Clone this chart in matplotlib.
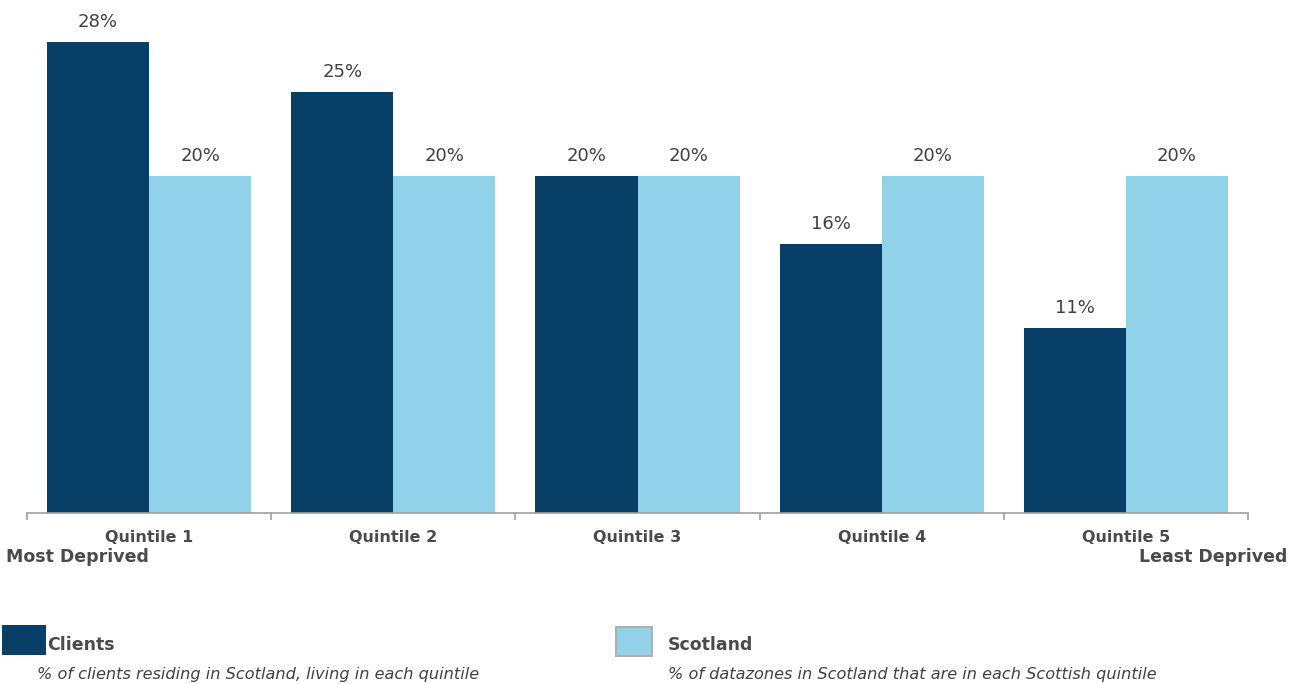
import matplotlib
matplotlib.use("Agg")
import matplotlib.pyplot as plt
from matplotlib.patches import Rectangle
import numpy as np

categories = ["Quintile 1", "Quintile 2", "Quintile 3", "Quintile 4", "Quintile 5"]
clients = [28, 25, 20, 16, 11]
scotland = [20, 20, 20, 20, 20]
series_names = ["Clients", "Scotland"]
series_desc = ["% of clients residing in Scotland, living in each quintile",
               "% of datazones in Scotland that are in each Scottish quintile"]

DARK = "#073F66"
LIGHT = "#92D2E8"
TXT = "#404040"
BTXT = "#4A4A4A"

W, H = 1298, 684
fig = plt.figure(figsize=(W / 100, H / 100), dpi=100)
plt.rcParams['font.family'] = ['DejaVu Sans']

ax = fig.add_axes([27 / W, 171 / H, (1248 - 27) / W, 505 / H])
x = np.arange(len(categories))
bw = 0.418
b1 = ax.bar(x - bw / 2, clients, bw, color=DARK)
b2 = ax.bar(x + bw / 2, scotland, bw, color=LIGHT)
for bars, vals in ((b1, clients), (b2, scotland)):
    for r, v in zip(bars, vals):
        ax.annotate(f"{v}%", (r.get_x() + r.get_width() / 2, r.get_height()),
                    xytext=(0, 8), textcoords="offset points",
                    ha="center", va="bottom", fontsize=13, color=TXT)

ax.set_xlim(-0.5, len(categories) - 0.5)
ax.set_ylim(0, 30)
for s in ("top", "right", "left"):
    ax.spines[s].set_visible(False)
ax.spines["bottom"].set_color("#A0A0A0")
ax.spines["bottom"].set_linewidth(1.2)
ax.set_yticks([])
ax.set_xticks(np.arange(-0.5, len(categories), 1.0))
ax.set_xticklabels([])
ax.tick_params(axis="x", length=5, color="#A0A0A0", width=1.2, direction="out")
ax.set_xticks(x, minor=True)
ax.set_xticklabels(categories, minor=True, fontsize=11.5, fontweight="bold", color=BTXT)
ax.tick_params(axis="x", which="minor", length=0, pad=12)

fig.text(6 / W, 1 - 557 / H, "Most Deprived", ha="left", va="center",
         fontsize=12.5, fontweight="bold", color=BTXT)
fig.text(1287 / W, 1 - 557 / H, "Least Deprived", ha="right", va="center",
         fontsize=12.5, fontweight="bold", color=BTXT)

# Legend
fig.patches.append(Rectangle((2 / W, 1 - 655 / H), 44 / W, 30 / H,
                             transform=fig.transFigure, facecolor=DARK, edgecolor="none"))
fig.patches.append(Rectangle((616 / W, 1 - 656 / H), 36 / W, 29 / H,
                             transform=fig.transFigure, facecolor=LIGHT,
                             edgecolor="#B0B0B0", linewidth=1.5))
fig.text(47 / W, 1 - 645 / H, series_names[0], ha="left", va="center",
         fontsize=12.5, fontweight="bold", color=BTXT)
fig.text(668 / W, 1 - 645 / H, series_names[1], ha="left", va="center",
         fontsize=12.5, fontweight="bold", color=BTXT)
fig.text(37 / W, 1 - 675 / H, series_desc[0], ha="left", va="center",
         fontsize=11.6, style="italic", color=TXT)
fig.text(668 / W, 1 - 675 / H, series_desc[1], ha="left", va="center",
         fontsize=11.6, style="italic", color=TXT)

fig.savefig("out.png", dpi=100, facecolor="white")
